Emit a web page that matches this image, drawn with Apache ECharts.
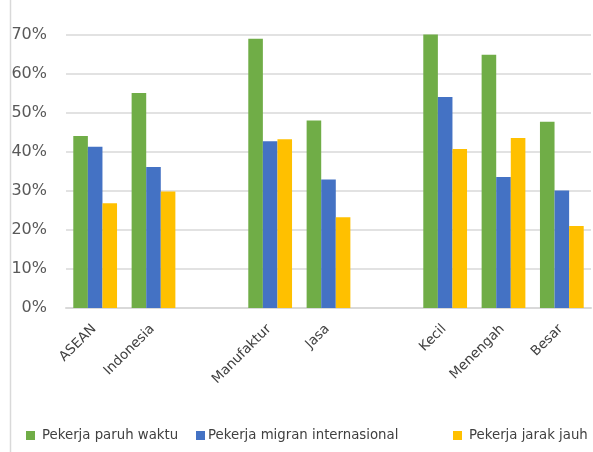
<!DOCTYPE html>
<html>
<head>
<meta charset="utf-8">
<script src="https://cdn.jsdelivr.net/npm/echarts@6/dist/echarts.min.js"></script>
<style>
  html, body { margin: 0; padding: 0; background: #fff; }
  #chart { width: 593px; height: 452px; }
</style>
</head>
<body>
<div id="chart"></div>
<script>
// Categories; empty strings leave a gap between the groups
const categories = ['ASEAN', 'Indonesia', '', 'Manufaktur', 'Jasa', '', 'Kecil', 'Menengah', 'Besar'];

// Shares in percent
const paruhWaktu = [44.0, 55.0, null, 68.9, 48.0, null, 70.0, 64.8, 47.7];
const migranInternasional = [41.3, 36.1, null, 42.7, 32.9, null, 54.0, 33.5, 30.1];
const jarakJauh = [26.8, 29.8, null, 43.2, 23.2, null, 40.7, 43.5, 21.0];

const yTicks = [0, 10, 20, 30, 40, 50, 60, 70];

const seriesNames = ['Pekerja paruh waktu', 'Pekerja migran internasional', 'Pekerja jarak jauh'];
const colors = ['#70ad47', '#4472c4', '#ffc000'];

const fontFamily = 'Verdana, "DejaVu Sans", sans-serif';

const chart = echarts.init(document.getElementById('chart'), null, { renderer: 'canvas' });

function legendAt(name, left, textShift) {
  return {
    data: [name],
    left: left,
    top: 429,
    itemWidth: 9,
    itemHeight: 9,
    itemGap: 0,
    icon: 'rect',
    selectedMode: false,
    padding: 0,
    textStyle: { fontFamily: fontFamily, fontSize: 13.3, color: '#404040', padding: [0, 0, 0, textShift] }
  };
}

chart.setOption({
  animation: false,
  color: colors,
  grid: { left: 66, right: 2, top: 34.5, bottom: 144, containLabel: false },
  legend: [
    legendAt(seriesNames[0], 26, 2),
    legendAt(seriesNames[1], 196, -2),
    legendAt(seriesNames[2], 453, 2)
  ],
  xAxis: {
    type: 'category',
    data: categories,
    axisLine: { lineStyle: { color: '#d9d9d9', width: 2 } },
    axisTick: { show: false },
    axisLabel: {
      interval: 0,
      rotate: 45,
      margin: 8,
      align: 'right',
      verticalAlign: 'top',
      padding: [0, 8.5, 0, 0],
      fontFamily: fontFamily,
      fontSize: 13.5,
      color: '#404040'
    }
  },
  yAxis: {
    type: 'value',
    min: yTicks[0],
    max: yTicks[yTicks.length - 1],
    interval: 10,
    axisLine: { show: false },
    axisTick: { show: false },
    splitLine: { lineStyle: { color: '#d9d9d9', width: 1.5 } },
    axisLabel: {
      formatter: v => v + '%',
      margin: 19,
      fontFamily: fontFamily,
      fontSize: 16,
      color: '#595959'
    }
  },
  series: [
    { name: seriesNames[0], type: 'bar', data: paruhWaktu, barGap: '0%', barCategoryGap: '25%' },
    { name: seriesNames[1], type: 'bar', data: migranInternasional, barGap: '0%', barCategoryGap: '25%' },
    { name: seriesNames[2], type: 'bar', data: jarakJauh, barGap: '0%', barCategoryGap: '25%' }
  ],
  graphic: [
    {
      type: 'line',
      shape: { x1: 10.5, y1: 0, x2: 10.5, y2: 452 },
      style: { stroke: '#d9d9d9', lineWidth: 1.5 },
      silent: true
    }
  ]
});
</script>
</body>
</html>
